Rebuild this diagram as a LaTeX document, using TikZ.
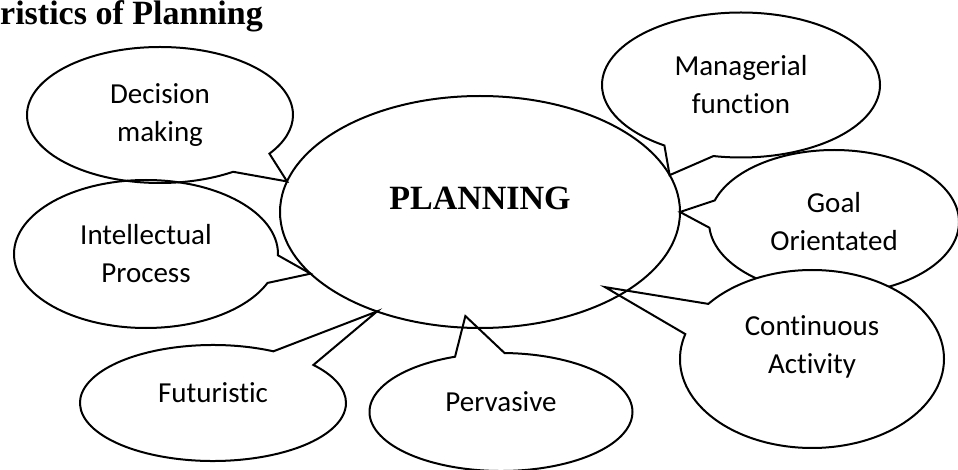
\documentclass[tikz,border=0pt]{standalone}
\usepackage{fontspec}
\setmainfont{Liberation Serif}
\newfontfamily\calfont[Ligatures=NoCommon]{Carlito}
\usetikzlibrary{shapes.geometric,shapes.callouts,backgrounds,calc}

\begin{document}
\begin{tikzpicture}[x=1pt,y=-1pt,
   bubble/.style={ellipse callout,draw=black,line width=2pt,inner sep=0pt,outer sep=0pt,
      callout pointer arc=22,align=center,font=\calfont\fontsize{29}{38}\selectfont},
   oneline/.style={text depth=20pt}]
   \useasboundingbox (0,0) rectangle (958,470);
   \node[anchor=base west,inner sep=0pt,font=\bfseries\fontsize{34}{40}\selectfont] (title) at (0,25) {ristics of Planning};
   % centre
   \node[ellipse,draw=black,line width=2pt,inner sep=0pt,outer sep=0pt,minimum width=400pt,minimum height=232pt,
      text depth=27pt,font=\bfseries\fontsize{34}{40}\selectfont] (plan) at (480,212) {PLANNING};
   % left side
   \node[bubble,minimum width=266pt,minimum height=136pt,callout absolute pointer={(plan.171)}] (decision) at (160,115) {Decision\\making};
   \node[bubble,minimum width=264pt,minimum height=148pt,callout absolute pointer={(plan.200)}] (intellectual) at (146,254) {Intellectual\\Process};
   \node[bubble,oneline,minimum width=266pt,minimum height=116pt,callout absolute pointer={(plan.224)}] (futuristic) at (213,403) {Futuristic};
   \node[bubble,oneline,minimum width=263pt,minimum height=118pt,callout absolute pointer={($(plan.center)!0.9!(plan.262)$)}] (pervasive) at (501,412) {Pervasive};
   % right side
   \node[bubble,minimum width=278pt,minimum height=145pt,callout absolute pointer={(plan.11)}] (managerial) at (741,85) {Managerial\\function};
   \begin{pgfonlayer}{background}
   \node[bubble,minimum width=250pt,minimum height=144pt,callout absolute pointer={(plan.0)}] (goal) at (834,222) {Goal\\Orientated};
   \node[bubble,fill=white,text depth=28pt,minimum width=264pt,minimum height=178pt,callout absolute pointer={($(plan.center)!0.9!(plan.329)$)}] (continuous) at (812,359) {Continuous\\Activity};
   \end{pgfonlayer}
\end{tikzpicture}
\end{document}
